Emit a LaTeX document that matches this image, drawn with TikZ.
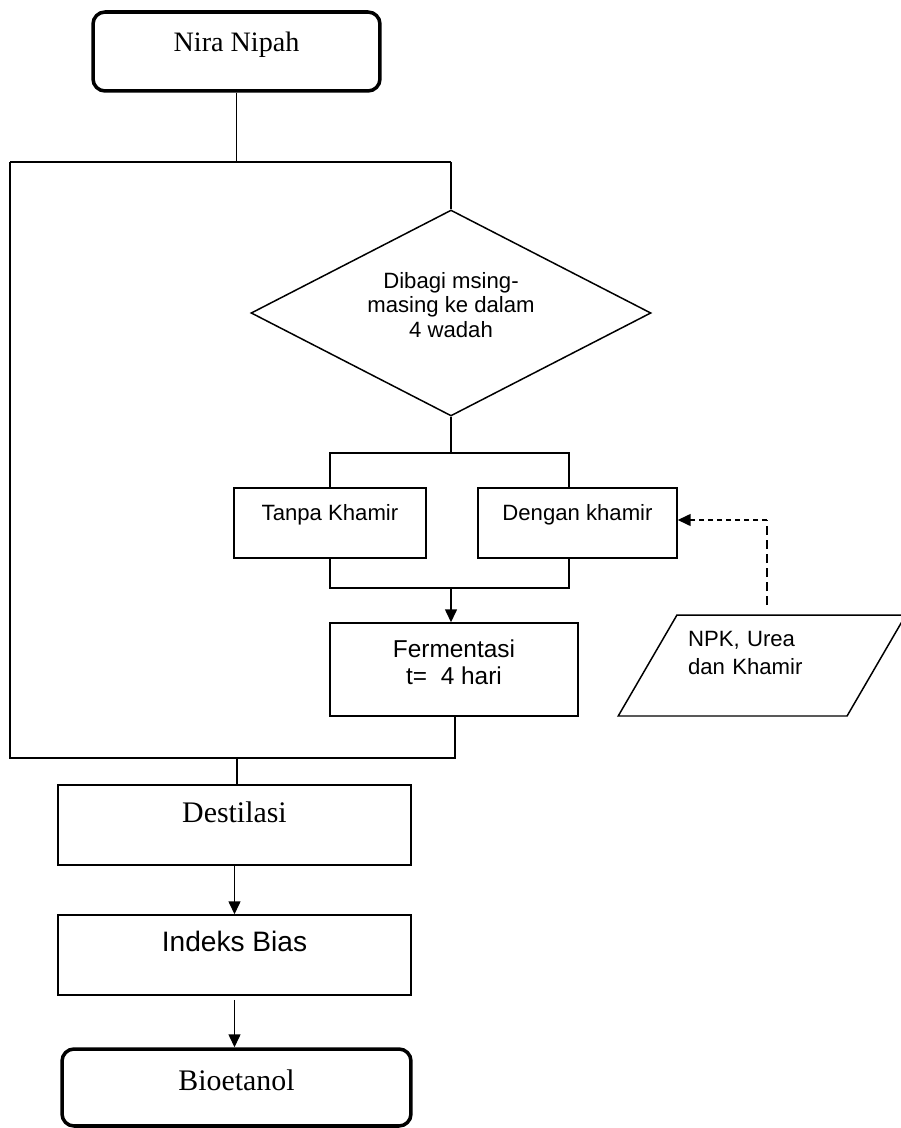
\documentclass[tikz,border=0pt]{standalone}
\usepackage{fontspec}
\setmainfont{Liberation Serif}
\newfontfamily\arialfont{Liberation Sans}
\usetikzlibrary{shapes.geometric,arrows.meta}
\tikzstyle{every path}=[line width=0.85pt]
\tikzstyle{terminal}=[draw, rounded corners=0.24cm, line width=2pt, inner sep=0pt]
\tikzstyle{process}=[draw, inner sep=0pt]
\tikzstyle{arrow}=[-{Triangle[length=0.26cm,width=0.24cm]}]
\tikzstyle{small}=[font=\arialfont\fontsize{12.6}{14.2}\selectfont]
\tikzstyle{feedline}=[line width=1.2pt, dash pattern=on 0.18cm off 0.1cm]
\tikzstyle{feedarrow}=[dash pattern=on 0.1cm off 0.08cm, -{Triangle[length=0.26cm,width=0.24cm]}]

\begin{document}
\begin{tikzpicture}[x=0.02cm, y=-0.02cm]
    \useasboundingbox (0,0) rectangle (900,1128);

    % start
    \node[terminal, minimum width=5.74cm, minimum height=1.58cm,
          font=\fontsize{16}{19}\selectfont, text height=0.3cm, text depth=0.3cm]
        (nira) at (236.5,51.5) {Nira Nipah};

    % split into control and sample
    \coordinate (splitl) at (10,162);
    \coordinate (splitr) at (451,162);
    \draw (nira.south) -- (nira.south |- splitl);
    \draw (splitl) -- (splitr);

    \node[diamond, draw, aspect=1.94, minimum width=8cm, minimum height=4.12cm,
          small, align=center, text height=28.4pt, text depth=0pt]
        (bagi) at (451,313) {Dibagi msing-\\masing ke dalam\\4 wadah};
    \draw (splitr) -- (bagi.north);

    % two containers
    \node[process, small, minimum width=3.84cm, minimum height=1.4cm,
          text height=0.2cm, text depth=0.32cm]
        (tanpa) at (330,523) {Tanpa Khamir};
    \node[process, small, minimum width=3.98cm, minimum height=1.4cm,
          text height=0.2cm, text depth=0.32cm]
        (dengan) at (577.5,523) {Dengan khamir};

    \coordinate (branchl) at (330,453);
    \coordinate (branchr) at (569,453);
    \draw (bagi.south) -- (bagi.south |- branchl);
    \draw (tanpa.north) -- (branchl) -- (branchr) -- (branchr |- dengan.north);

    \coordinate (mergel) at (330,588);
    \coordinate (merger) at (569,588);
    \coordinate (mergem) at (451,588);
    \draw (tanpa.south) -- (mergel) -- (merger) -- (merger |- dengan.south);

    \node[process, font=\arialfont\fontsize{13.9}{15.9}\selectfont, align=center,
          minimum width=4.96cm, minimum height=1.86cm, text height=17.6pt, text depth=0pt]
        (ferment) at (454,669.5) {Fermentasi\\t=\ \ 4 hari};
    \draw[arrow] (mergem) -- (mergem |- ferment.north);

    % additives
    \node[trapezium, trapezium left angle=56.2, trapezium right angle=123.8,
          trapezium stretches, draw, minimum width=5.76cm, minimum height=2.02cm,
          font=\arialfont\fontsize{12.6}{16.5}\selectfont, text width=2.96cm, align=left,
          text height=9pt, text depth=31.2pt]
        (npk) at (762,665.5) {NPK, Urea\\dan Khamir};
    \coordinate (feed) at (767,605);
    \coordinate (bend) at (767,520);
    \draw[feedline] (feed) -- (bend);
    \draw[feedarrow] (bend) -- (bend -| dengan.east);

    % join back
    \coordinate (joinl) at (10,758);
    \coordinate (joinr) at (455,758);
    \coordinate (joinm) at (237,758);
    \draw (splitl) -- (joinl) -- (joinr) -- (joinr |- ferment.south);

    \node[process, font=\fontsize{17}{20}\selectfont, minimum width=7.06cm, minimum height=1.6cm,
          text height=0.3cm, text depth=0.41cm]
        (destil) at (234.5,825) {Destilasi};
    \draw (joinm) -- (joinm |- destil.north);

    \node[process, font=\arialfont\fontsize{16}{19}\selectfont, minimum width=7.06cm,
          minimum height=1.6cm, text height=0.3cm, text depth=0.43cm]
        (indeks) at (234.5,955) {Indeks Bias};
    \draw[arrow] (destil.south) -- (indeks.north);

    \node[terminal, minimum width=6.98cm, minimum height=1.54cm,
          font=\fontsize{17}{20}\selectfont, text height=0.36cm, text depth=0.23cm]
        (bio) at (236.5,1087.5) {Bioetanol};
    \draw[arrow, shorten <=0.08cm] (indeks.south) -- (indeks.south |- bio.north);
\end{tikzpicture}
\end{document}
